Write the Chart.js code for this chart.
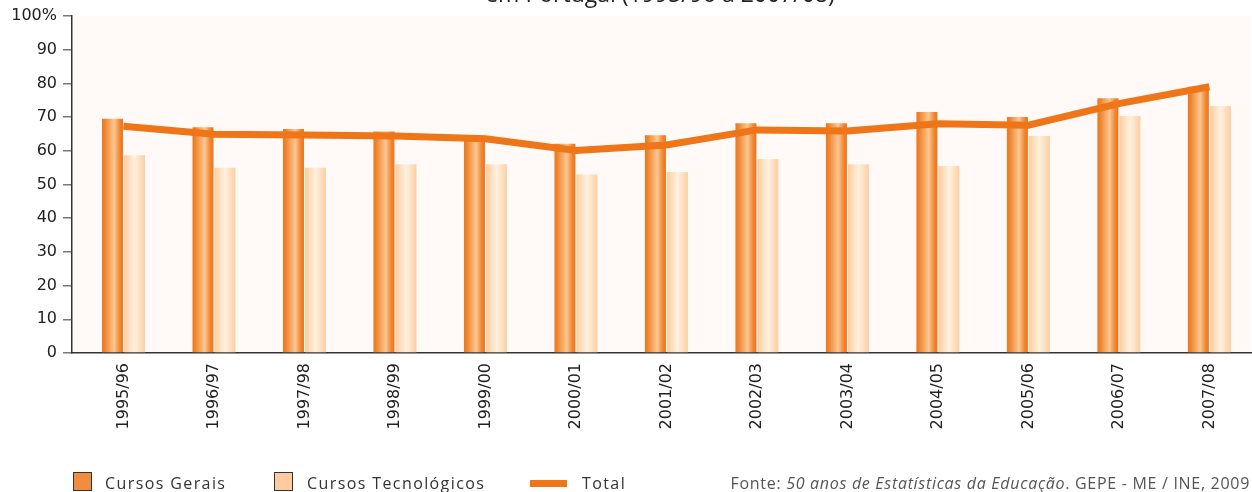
<!DOCTYPE html>
<html lang="pt">
<head>
<meta charset="utf-8">
<title>Taxa de conclusão do ensino secundário</title>
<script src="https://cdn.jsdelivr.net/npm/chart.js@4/dist/chart.umd.min.js"></script>
<style>
  html, body { margin: 0; padding: 0; background: #ffffff; overflow: hidden; }
  #wrap { position: relative; width: 1252px; height: 492px; }
  #chart { position: absolute; left: 0; top: 0; }
  .title { position: absolute; left: 0; width: 1320px; top: -23px; text-align: center;
           font: 23px "Open Sans", sans-serif; color: #222; white-space: nowrap; }
  .legend { position: absolute; top: 472px; font: 16px "Open Sans", sans-serif; color: #333;
            letter-spacing: 1.4px; white-space: nowrap; }
  .sw { position: absolute; box-sizing: border-box; }
  .source { position: absolute; right: 2px; top: 472px; font: 16px "Open Sans", sans-serif;
            letter-spacing: 0.7px; color: #555; white-space: nowrap; }
</style>
</head>
<body>
<div id="wrap">
  <canvas id="chart" width="1252" height="492"></canvas>
  <div class="title">em Portugal (1995/96 a 2007/08)</div>

  <div class="sw" style="left:73px;top:472px;width:19px;height:19px;background:#f18d3e;border:1px solid #333;"></div>
  <div class="legend" style="left:105px;">Cursos Gerais</div>
  <div class="sw" style="left:274px;top:472px;width:19px;height:19px;background:#fdcb9e;border:1px solid #333;"></div>
  <div class="legend" style="left:307px;">Cursos Tecnológicos</div>
  <div class="sw" style="left:530px;top:480px;width:37px;height:7px;background:#ee7518;"></div>
  <div class="legend" style="left:582px;">Total</div>

  <div class="source">Fonte: <i>50 anos de Estatísticas da Educação</i>. GEPE - ME / INE, 2009</div>
</div>

<script>
// Anos lectivos
const anos = ['1995/96', '1996/97', '1997/98', '1998/99', '1999/00', '2000/01', '2001/02',
              '2002/03', '2003/04', '2004/05', '2005/06', '2006/07', '2007/08'];

// Taxas (%) por tipo de curso
const cursosGerais       = [69.5, 67.0, 66.5, 65.7, 64.4, 62.1, 64.6, 68.2, 68.2, 71.5, 70.0, 75.6, 79.0];
const cursosTecnologicos = [58.7, 55.0, 55.0, 56.0, 56.0, 53.0, 53.7, 57.6, 56.0, 55.5, 64.4, 70.3, 73.3];
const total              = [67.3, 64.9, 64.7, 64.4, 63.6, 60.1, 61.7, 66.2, 65.9, 68.0, 67.6, 74.0, 79.0];

// Marcas do eixo vertical
const yTicks = [0, 10, 20, 30, 40, 50, 60, 70, 80, 90, 100];

const CAT_PCT = 0.486;
const BAR_PCT = 0.955;

const toPoints = arr => arr.map((v, i) => ({ x: i, y: v }));

// Horizontal gradient across each bar, giving the cylindrical look
function barGradient(stops, side) {
  return (c) => {
    const chart = c.chart;
    const xs = chart.scales && chart.scales.x;
    if (!xs || c.type !== 'data' || !isFinite(xs.getPixelForValue(0))) return stops[0][1];
    const center = xs.getPixelForValue(c.dataIndex);
    const unit = xs.getPixelForValue(1) - xs.getPixelForValue(0);
    const slot = unit * CAT_PCT / 2;
    const w = slot * BAR_PCT;
    const mid = center + side * slot / 2;
    const g = chart.ctx.createLinearGradient(mid - w / 2, 0, mid + w / 2, 0);
    stops.forEach(([o, col]) => g.addColorStop(o, col));
    return g;
  };
}

const geraisStops = [[0, '#ed7620'], [0.15, '#f0862f'], [0.58, '#fcc792'], [0.85, '#f08530'], [1, '#ec741e']];
const tecStops    = [[0, '#fbcc9c'], [0.5, '#fff1e0'], [1, '#fbcfa2']];

// Light plot background
const plotBackground = {
  id: 'plotBackground',
  beforeDraw(chart) {
    const { ctx, chartArea: a } = chart;
    ctx.save();
    ctx.fillStyle = '#fffaf7';
    ctx.fillRect(a.left, a.top, a.right - a.left, a.bottom - a.top);
    ctx.restore();
  }
};

new Chart(document.getElementById('chart'), {
  data: {
    datasets: [
      {
        type: 'line',
        label: 'Total',
        data: toPoints(total),
        borderColor: '#ee7518',
        borderWidth: 7,
        pointRadius: 0,
        tension: 0,
        borderCapStyle: 'butt',
        order: 0
      },
      {
        type: 'bar',
        label: 'Cursos Gerais',
        data: toPoints(cursosGerais),
        backgroundColor: barGradient(geraisStops, -1),
        categoryPercentage: CAT_PCT,
        barPercentage: BAR_PCT,
        order: 1
      },
      {
        type: 'bar',
        label: 'Cursos Tecnológicos',
        data: toPoints(cursosTecnologicos),
        backgroundColor: barGradient(tecStops, 1),
        categoryPercentage: CAT_PCT,
        barPercentage: BAR_PCT,
        order: 1
      }
    ]
  },
  options: {
    responsive: false,
    animation: false,
    layout: { padding: { top: 16, right: 1, left: 0, bottom: 0 } },
    plugins: { legend: { display: false }, tooltip: { enabled: false } },
    scales: {
      x: {
        type: 'linear',
        offset: false,
        min: -0.569,
        max: 12.46,
        afterBuildTicks: s => { s.ticks = anos.map((_, i) => ({ value: i })); },
        afterFit: s => { s.height = 139; },
        grid: { display: false, drawTicks: false, offset: false },
        border: { display: true, color: '#333', width: 1.5 },
        ticks: {
          autoSkip: false,
          minRotation: 90,
          maxRotation: 90,
          padding: 10,
          color: '#222',
          font: { family: 'DejaVu Sans', size: 16 },
          callback: v => anos[v]
        }
      },
      y: {
        min: 0,
        max: 100,
        afterBuildTicks: s => { s.ticks = yTicks.map(v => ({ value: v })); },
        afterFit: s => { s.width = 72; },
        grid: { drawOnChartArea: false, color: '#777', tickLength: 9, lineWidth: 1.5 },
        border: { display: true, color: '#333', width: 1.5 },
        ticks: {
          padding: 6,
          color: '#222',
          font: { family: 'DejaVu Sans', size: 16 },
          callback: v => (v === 100 ? '100%' : String(v))
        }
      }
    }
  },
  plugins: [plotBackground]
});
</script>
</body>
</html>
